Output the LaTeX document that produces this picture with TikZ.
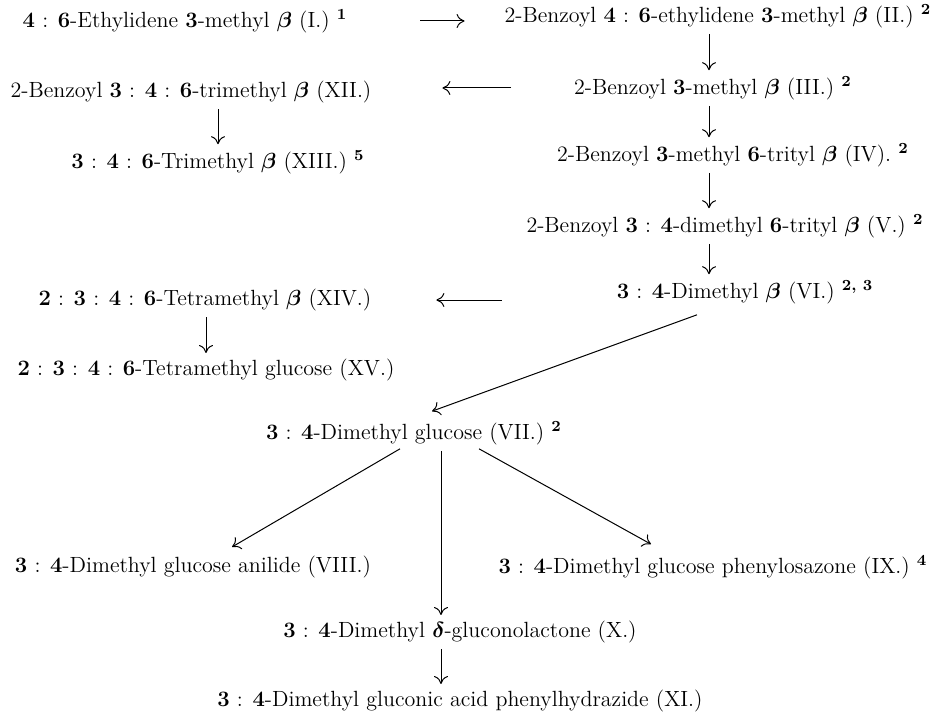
\documentclass[tikz,border=0pt]{standalone}
\usepackage{amsmath}
\usepackage{amssymb}
\usepackage{bm}
\usepackage{tikz}
\usetikzlibrary{calc}
\usetikzlibrary{arrows.meta}
\usetikzlibrary{positioning}
\newcommand{\bnum}[1]{\textbf{#1}}
\newcommand{\fn}[1]{\textsuperscript{\bfseries #1}}
\tikzstyle{chem} = [inner sep=0pt, outer sep=3pt, anchor=center,
 font=\fontsize{11}{13}\selectfont]
\tikzstyle{reac} = [line width=0.5pt, -{To[length=4pt, width=7pt]}]

\begin{document}
\begin{tikzpicture}[x=0.5pt, y=-0.5pt]

\useasboundingbox (0,0) rectangle (946,711);

% right column: the benzoyl route
\node[chem] (eth)  at (185,21)  {\bnum{4} : \bnum{6}-Ethylidene \bnum{3}-methyl $\bm{\beta}$ (I.) \fn{1}};
\node[chem] (bzeth) at (718,16) {2-Benzoyl \bnum{4} : \bnum{6}-ethylidene \bnum{3}-methyl $\bm{\beta}$ (II.) \fn{2}};
\node[chem] (bzme) at (713,88)  {2-Benzoyl \bnum{3}-methyl $\bm{\beta}$ (III.) \fn{2}};
\node[chem] (bztr) at (733,155) {2-Benzoyl \bnum{3}-methyl \bnum{6}-trityl $\bm{\beta}$ (IV). \fn{2}};
\node[chem] (bzdi) at (725,226) {2-Benzoyl \bnum{3} : \bnum{4}-dimethyl \bnum{6}-trityl $\bm{\beta}$ (V.) \fn{2}};
\node[chem] (dime) at (745,292) {\bnum{3} : \bnum{4}-Dimethyl $\bm{\beta}$ (VI.) \fn{2, 3}};

% left column
\node[chem] (bztri) at (191,92)  {2-Benzoyl \bnum{3} : \bnum{4} : \bnum{6}-trimethyl $\bm{\beta}$ (XII.)};
\node[chem] (tri)   at (218,162) {\bnum{3} : \bnum{4} : \bnum{6}-Trimethyl $\bm{\beta}$ (XIII.) \fn{5}};
\node[chem] (tetb)  at (205,300) {\bnum{2} : \bnum{3} : \bnum{4} : \bnum{6}-Tetramethyl $\bm{\beta}$ (XIV.)};
\node[chem] (tetg)  at (206,370) {\bnum{2} : \bnum{3} : \bnum{4} : \bnum{6}-Tetramethyl glucose (XV.)};

% glucose and its derivatives
\node[chem] (glc)  at (414,433) {\bnum{3} : \bnum{4}-Dimethyl glucose (VII.) \fn{2}};
\node[chem] (anil) at (193,567) {\bnum{3} : \bnum{4}-Dimethyl glucose anilide (VIII.)};
\node[chem] (osaz) at (713,567) {\bnum{3} : \bnum{4}-Dimethyl glucose phenylosazone (IX.) \fn{4}};
\node[chem] (lact) at (460,632) {\bnum{3} : \bnum{4}-Dimethyl $\bm{\delta}$-gluconolactone (X.)};
\node[chem] (hydr) at (460,701) {\bnum{3} : \bnum{4}-Dimethyl gluconic acid phenylhydrazide (XI.)};

\coordinate (spine) at (709,0);
\coordinate (stem)  at (441,0);

\draw[reac, shorten <=33.5pt, shorten >=17pt] (eth.east) -- (eth.east -| bzeth.west);
\draw[reac] (bzeth.south -| spine) -- (bzme.north -| spine);
\draw[reac] (bzme.south -| spine) -- (bztr.north -| spine);
\draw[reac] (bztr.south -| spine) -- (bzdi.north -| spine);
\draw[reac] (bzdi.south -| spine) -- (dime.north -| spine);

\draw[reac, shorten <=28.5pt, shorten >=32.5pt] (bzme.west) -- (bzme.west -| bztri.east);
\draw[reac] (bztri.south -| tri.north) -- (tri.north);
\draw[reac, shorten <=54.5pt, shorten >=29.5pt] (tetb.east -| dime.west) -- (tetb.east);
\draw[reac] (tetb.south -| tetg.north) -- (tetg.north);

\draw[reac] ([shift={(-48,5)}]dime.south) -- ([shift={(18,-4)}]glc.north);
\draw[reac] ([shift={(-14,-2)}]glc.south) -- ([shift={(39,-3)}]anil.north);
\draw[reac] ([shift={(65,-2)}]glc.south) -- ([shift={(-62,-5)}]osaz.north);
\draw[reac] (glc.south -| stem) -- (lact.north -| stem);
\draw[reac] (lact.south -| stem) -- (hydr.north -| stem);

\end{tikzpicture}
\end{document}
